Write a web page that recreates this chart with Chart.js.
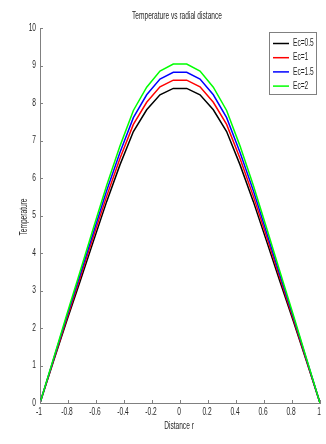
<!DOCTYPE html>
<html>
<head>
<meta charset="utf-8">
<script src="https://cdn.jsdelivr.net/npm/chart.js@4.4.1/dist/chart.umd.min.js"></script>
<style>
  html, body { margin: 0; padding: 0; background: #fff; }
  #wrap { width: 326px; height: 444px; }
</style>
</head>
<body>
<div id="wrap"><canvas id="chart" width="326" height="444"></canvas></div>
<script>
const radius = [-1, -0.905, -0.81, -0.714, -0.619, -0.524, -0.429, -0.333, -0.238, -0.143, -0.048,
  0.048, 0.143, 0.238, 0.333, 0.429, 0.524, 0.619, 0.714, 0.81, 0.905, 1];

const ec05 = [0, 1.1, 2.18, 3.24, 4.31, 5.37, 6.35, 7.24, 7.82, 8.22, 8.39,
  8.39, 8.22, 7.82, 7.24, 6.35, 5.37, 4.31, 3.24, 2.18, 1.1, 0];
const ec1 = [0, 1.12, 2.23, 3.33, 4.43, 5.51, 6.52, 7.43, 8.02, 8.43, 8.61,
  8.61, 8.43, 8.02, 7.43, 6.52, 5.51, 4.43, 3.33, 2.23, 1.12, 0];
const ec15 = [0, 1.15, 2.29, 3.41, 4.54, 5.66, 6.68, 7.61, 8.22, 8.64, 8.82,
  8.82, 8.64, 8.22, 7.61, 6.68, 5.66, 4.54, 3.41, 2.29, 1.15, 0];
const ec2 = [0, 1.17, 2.34, 3.5, 4.66, 5.8, 6.85, 7.8, 8.42, 8.85, 9.04,
  9.04, 8.85, 8.42, 7.8, 6.85, 5.8, 4.66, 3.5, 2.34, 1.17, 0];

const seriesLabels = ["Ec=0.5", "Ec=1", "Ec=1.5", "Ec=2"];
const seriesValues = [ec05, ec1, ec15, ec2];
const seriesColors = ["#000000", "#ff0000", "#0000ff", "#00ff00"];

const xTicks = [-1, -0.8, -0.6, -0.4, -0.2, 0, 0.2, 0.4, 0.6, 0.8, 1];
const xTickLabels = ["-1", "-0.8", "-0.6", "-0.4", "-0.2", "0", "0.2", "0.4", "0.6", "0.8", "1"];
const yTicks = [0, 1, 2, 3, 4, 5, 6, 7, 8, 9, 10];
const yTickLabels = ["0", "1", "2", "3", "4", "5", "6", "7", "8", "9", "10"];

const chartTitle = "Temperature vs radial distance";
const xTitle = "Distance r";
const yTitle = "Temperature";

const FONT = "10px 'Liberation Sans', Arial, sans-serif";
const SQUEEZE = 0.66;
const AXIS_COLOR = "#808080";
const TEXT_COLOR = "#262626";

function narrowText(ctx, text, x, y, align) {
  ctx.save();
  ctx.translate(x, y);
  ctx.scale(SQUEEZE, 1);
  ctx.textAlign = align;
  ctx.textBaseline = "middle";
  ctx.fillText(text, 0, 0);
  ctx.restore();
}

const matlabAxes = {
  id: "matlabAxes",
  afterDraw(chart) {
    const { ctx, chartArea: area } = chart;
    const xs = chart.scales.x;
    const ys = chart.scales.y;
    ctx.save();
    ctx.strokeStyle = AXIS_COLOR;
    ctx.lineWidth = 1;
    ctx.beginPath();
    xTicks.forEach((v) => {
      const px = Math.round(xs.getPixelForValue(v)) + 0.5;
      ctx.moveTo(px, area.bottom);
      ctx.lineTo(px, area.bottom - 3);
    });
    yTicks.forEach((v) => {
      const py = Math.round(ys.getPixelForValue(v)) + 0.5;
      ctx.moveTo(area.left, py);
      ctx.lineTo(area.left + 3, py);
    });
    ctx.stroke();

    ctx.fillStyle = TEXT_COLOR;
    ctx.font = FONT;
    xTicks.forEach((v, i) => {
      narrowText(ctx, xTickLabels[i], xs.getPixelForValue(v) - 1, area.bottom + 9, "center");
    });
    yTicks.forEach((v, i) => {
      narrowText(ctx, yTickLabels[i], area.left - 4, ys.getPixelForValue(v), "right");
    });
    narrowText(ctx, chartTitle, 177, 16, "center");
    narrowText(ctx, xTitle, 179, 426, "center");

    ctx.save();
    ctx.translate(24, 217);
    ctx.rotate(-Math.PI / 2);
    ctx.scale(SQUEEZE, 1);
    ctx.textAlign = "center";
    ctx.textBaseline = "middle";
    ctx.fillText(yTitle, 0, 0);
    ctx.restore();

    // legend box, top right inside the axes
    const bx = 269.5, by = 32.5, bw = 47, bh = 62;
    ctx.fillStyle = "#ffffff";
    ctx.fillRect(bx, by, bw, bh);
    ctx.strokeStyle = AXIS_COLOR;
    ctx.strokeRect(bx, by, bw, bh);
    chart.data.datasets.forEach((ds, i) => {
      const ly = 43.5 + i * 14.2;
      ctx.strokeStyle = ds.borderColor;
      ctx.lineWidth = 1.5;
      ctx.beginPath();
      ctx.moveTo(273, ly);
      ctx.lineTo(289, ly);
      ctx.stroke();
      ctx.fillStyle = TEXT_COLOR;
      narrowText(ctx, ds.label, 293, ly, "left");
    });
    ctx.restore();
  }
};

const datasets = seriesLabels.map((label, i) => ({
  label,
  data: radius.map((r, k) => ({ x: r, y: seriesValues[i][k] })),
  borderColor: seriesColors[i],
  backgroundColor: seriesColors[i],
  borderWidth: 1.5,
  pointRadius: 0,
  tension: 0,
  fill: false,
  order: seriesLabels.length - 1 - i
}));

new Chart(document.getElementById("chart").getContext("2d"), {
  type: "line",
  data: { datasets },
  options: {
    responsive: false,
    animation: false,
    devicePixelRatio: 1,
    layout: { padding: { top: 28, right: 6, left: 0, bottom: 0 } },
    plugins: {
      legend: { display: false },
      title: { display: false },
      tooltip: { enabled: false }
    },
    scales: {
      x: {
        type: "linear",
        min: -1,
        max: 1,
        afterBuildTicks: (s) => { s.ticks = xTicks.map((v) => ({ value: v })); },
        afterFit: (s) => { s.height = 41; },
        ticks: { display: false },
        grid: { display: false, drawTicks: false },
        border: { color: AXIS_COLOR, width: 1 }
      },
      y: {
        type: "linear",
        min: 0,
        max: 10,
        afterBuildTicks: (s) => { s.ticks = yTicks.map((v) => ({ value: v })); },
        afterFit: (s) => { s.width = 40; },
        ticks: { display: false },
        grid: { display: false, drawTicks: false },
        border: { color: AXIS_COLOR, width: 1 }
      }
    }
  },
  plugins: [matlabAxes]
});
</script>
</body>
</html>
